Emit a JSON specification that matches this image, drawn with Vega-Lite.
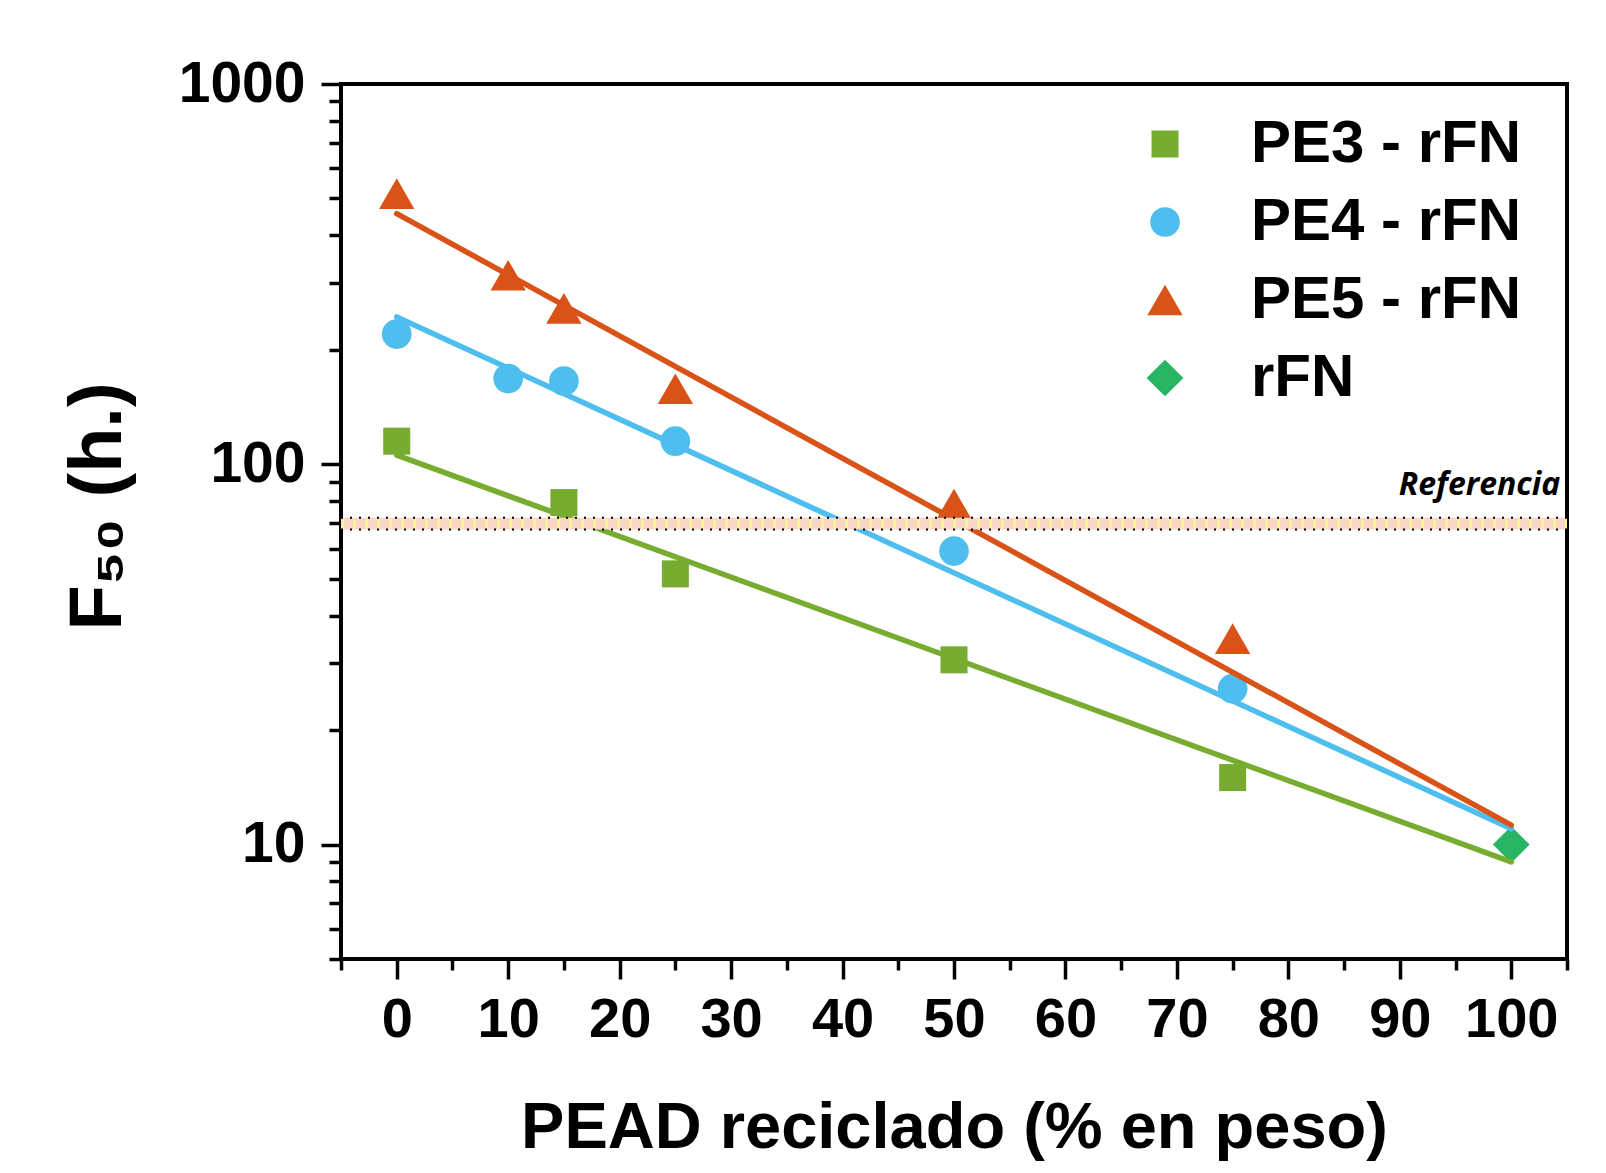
{
  "$schema": "https://vega.github.io/schema/vega-lite/v6.json",
  "autosize": {"type": "none"},
  "padding": {"left": 341, "top": 84, "right": 39, "bottom": 214},
  "width": 1226,
  "height": 875,
  "background": "white",
  "config": {
    "view": {"stroke": "black", "strokeWidth": 4},
    "axis": {"grid": false, "domain": false, "tickColor": "black", "tickWidth": 3.5, "labelColor": "black", "titleColor": "black", "labelFont": "Liberation Sans", "titleFont": "Liberation Sans", "labelFontWeight": "bold", "titleFontWeight": "bold", "labelFlush": false, "labelOverlap": false}
  },
  "datasets": {
    "points": [
      {"series": "PE3 - rFN", "x": 0, "y": 115},
      {"series": "PE3 - rFN", "x": 15, "y": 79.3},
      {"series": "PE3 - rFN", "x": 25, "y": 51.5},
      {"series": "PE3 - rFN", "x": 50, "y": 30.6},
      {"series": "PE3 - rFN", "x": 75, "y": 15},
      {"series": "PE4 - rFN", "x": 0, "y": 220},
      {"series": "PE4 - rFN", "x": 10, "y": 168},
      {"series": "PE4 - rFN", "x": 15, "y": 165.5},
      {"series": "PE4 - rFN", "x": 25, "y": 115},
      {"series": "PE4 - rFN", "x": 50, "y": 59.1},
      {"series": "PE4 - rFN", "x": 75, "y": 25.7},
      {"series": "PE5 - rFN", "x": 0, "y": 515},
      {"series": "PE5 - rFN", "x": 10, "y": 314},
      {"series": "PE5 - rFN", "x": 15, "y": 257},
      {"series": "PE5 - rFN", "x": 25, "y": 158},
      {"series": "PE5 - rFN", "x": 50, "y": 78.6},
      {"series": "PE5 - rFN", "x": 75, "y": 34.8},
      {"series": "rFN", "x": 100, "y": 10}
    ],
    "fits": [
      {"series": "PE3 - rFN", "x": 0, "y": 105.7},
      {"series": "PE3 - rFN", "x": 100, "y": 9.0},
      {"series": "PE4 - rFN", "x": 0, "y": 244},
      {"series": "PE4 - rFN", "x": 100, "y": 11.0},
      {"series": "PE5 - rFN", "x": 0, "y": 456},
      {"series": "PE5 - rFN", "x": 100, "y": 11.25}
    ],
    "band": [{"lo": 67.4, "mid": 69.8, "hi": 72.3}],
    "note": [{"label": "Referencia", "x": 104.4, "y": 83}]
  },
  "resolve": {"axis": {"x": "independent", "y": "independent"}},
  "layer": [
    {
      "data": {"name": "points"},
      "mark": {"type": "point", "filled": true, "opacity": 1, "strokeWidth": 0},
      "encoding": {
        "x": {"field": "x", "type": "quantitative", "scale": {"domain": [-5, 105], "nice": false, "zero": false},
          "axis": {"orient": "bottom", "values": [0, 10, 20, 30, 40, 50, 60, 70, 80, 90, 100], "tickSize": 20, "labelFontSize": 56, "labelBaseline": "alphabetic", "labelPadding": 57, "title": "PEAD reciclado (% en peso)", "titleFontSize": 65, "titleBaseline": "alphabetic", "titleY": 188}},
        "y": {"field": "y", "type": "quantitative", "scale": {"type": "log", "domain": [5, 1000], "nice": false},
          "axis": {"orient": "left", "values": [10, 100, 1000], "format": "d", "tickSize": 20, "labelFontSize": 57, "labelPadding": 16, "title": "F₅₀ (h.)", "titleFontSize": 74, "titleX": -221, "titleY": 422, "titleAngle": -90, "titleBaseline": "alphabetic", "titleAlign": "center"}},
        "color": {"field": "series", "type": "nominal",
          "scale": {"domain": ["PE3 - rFN", "PE4 - rFN", "PE5 - rFN", "rFN"], "range": ["#77ac30", "#4dbeee", "#d95319", "#27b463"]},
          "legend": {"orient": "none", "legendX": 794, "legendY": 30, "title": null, "labelFont": "Liberation Sans", "labelFontSize": 60, "labelFontWeight": "bold", "labelColor": "black", "labelOffset": 56, "rowPadding": 18, "labelLimit": 0, "symbolStrokeWidth": 0, "symbolOpacity": 1}},
        "shape": {"field": "series", "type": "nominal",
          "scale": {"domain": ["PE3 - rFN", "PE4 - rFN", "PE5 - rFN", "rFN"], "range": ["square", "circle", "triangle-up", "diamond"]},
          "legend": {"orient": "none", "legendX": 794, "legendY": 30, "title": null, "labelFont": "Liberation Sans", "labelFontSize": 60, "labelFontWeight": "bold", "labelColor": "black", "labelOffset": 56, "rowPadding": 18, "labelLimit": 0, "symbolStrokeWidth": 0, "symbolOpacity": 1}},
        "size": {"field": "series", "type": "nominal",
          "scale": {"type": "ordinal", "domain": ["PE3 - rFN", "PE4 - rFN", "PE5 - rFN", "rFN"], "range": [730, 880, 1250, 1350]},
          "legend": {"orient": "none", "legendX": 794, "legendY": 30, "title": null, "labelFont": "Liberation Sans", "labelFontSize": 60, "labelFontWeight": "bold", "labelColor": "black", "labelOffset": 56, "rowPadding": 18, "labelLimit": 0, "symbolStrokeWidth": 0, "symbolOpacity": 1}}
      }
    },
    {
      "data": {"name": "fits"},
      "mark": {"type": "line", "strokeWidth": 5.5, "strokeCap": "round"},
      "encoding": {
        "x": {"field": "x", "type": "quantitative", "axis": {"orient": "bottom", "values": [-5, 5, 15, 25, 35, 45, 55, 65, 75, 85, 95, 105], "tickSize": 11, "labels": false, "title": null}},
        "y": {"field": "y", "type": "quantitative", "axis": {"orient": "left", "values": [5, 6, 7, 8, 9, 20, 30, 40, 50, 60, 70, 80, 90, 200, 300, 400, 500, 600, 700, 800, 900], "tickSize": 12, "labels": false, "title": null}},
        "color": {"field": "series", "type": "nominal", "legend": null}
      }
    },
    {
      "data": {"name": "band"},
      "mark": {"type": "rect", "color": "#f9d6c6"},
      "encoding": {
        "x": {"datum": -5, "type": "quantitative", "axis": null},
        "x2": {"datum": 105},
        "y": {"field": "lo", "type": "quantitative", "axis": null},
        "y2": {"field": "hi"}
      }
    },
    {
      "data": {"name": "band"},
      "mark": {"type": "rule", "color": "#fcf29a", "strokeWidth": 9, "strokeDash": [3, 9]},
      "encoding": {
        "x": {"datum": -5, "type": "quantitative", "axis": null},
        "x2": {"datum": 105},
        "y": {"field": "mid", "type": "quantitative", "axis": null}
      }
    },
    {
      "data": {"name": "band"},
      "mark": {"type": "rule", "color": "black", "strokeWidth": 2, "strokeDash": [2, 7]},
      "encoding": {
        "x": {"datum": -5, "type": "quantitative", "axis": null},
        "x2": {"datum": 105},
        "y": {"field": "hi", "type": "quantitative", "axis": null}
      }
    },
    {
      "data": {"name": "band"},
      "mark": {"type": "rule", "color": "black", "strokeWidth": 2, "strokeDash": [2, 7]},
      "encoding": {
        "x": {"datum": -5, "type": "quantitative", "axis": null},
        "x2": {"datum": 105},
        "y": {"field": "lo", "type": "quantitative", "axis": null}
      }
    },
    {
      "data": {"name": "note"},
      "mark": {"type": "text", "font": "Open Sans", "fontStyle": "italic", "fontWeight": "bold", "fontSize": 32, "align": "right", "baseline": "alphabetic", "color": "black"},
      "encoding": {
        "x": {"field": "x", "type": "quantitative", "axis": null},
        "y": {"field": "y", "type": "quantitative", "axis": null},
        "text": {"field": "label"}
      }
    }
  ]
}
